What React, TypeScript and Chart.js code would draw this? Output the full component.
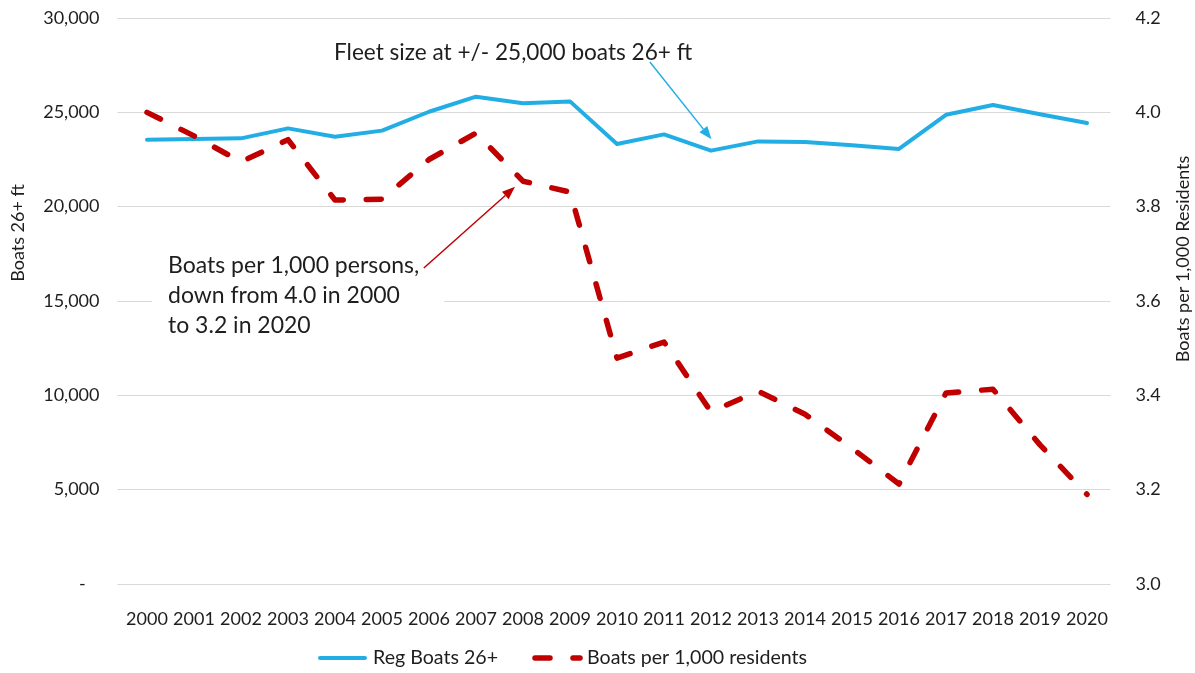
import React, { useEffect, useRef } from 'react';
import { Chart, registerables } from 'chart.js';

Chart.register(...registerables);

const years = ['2000', '2001', '2002', '2003', '2004', '2005', '2006', '2007', '2008', '2009', '2010',
  '2011', '2012', '2013', '2014', '2015', '2016', '2017', '2018', '2019', '2020'];

const regBoats = [23550, 23580, 23620, 24150, 23710, 24030, 25030, 25830, 25480, 25580, 23320,
  23830, 22970, 23460, 23430, 23250, 23060, 24870, 25390, 24900, 24430];

const boatsPer1000 = [4.0, 3.95, 3.895, 3.942, 3.814, 3.816, 3.9, 3.956, 3.854, 3.831, 3.479,
  3.513, 3.365, 3.409, 3.36, 3.288, 3.212, 3.405, 3.413, 3.295, 3.19];

const seriesLabels = ['Reg Boats 26+', 'Boats per 1,000 residents'];
const axisTitles = ['Boats 26+ ft', 'Boats per 1,000 Residents'];
const fleetNote = ['Fleet size at +/- 25,000 boats 26+ ft'];
const rateNote = ['Boats per 1,000 persons,', 'down from 4.0 in 2000', 'to 3.2 in 2020'];

const BLUE = '#22AEE4';
const RED = '#C00000';
const TEXT = '#1e1e1e';
const FONT = 'Lato, "Open Sans", sans-serif';

function drawArrow(ctx: CanvasRenderingContext2D, x1: number, y1: number, x2: number, y2: number,
  color: string, width: number, headLen: number, headW: number) {
  const ang = Math.atan2(y2 - y1, x2 - x1);
  const bx = x2 - headLen * Math.cos(ang);
  const by = y2 - headLen * Math.sin(ang);
  ctx.save();
  ctx.strokeStyle = color;
  ctx.fillStyle = color;
  ctx.lineWidth = width;
  ctx.setLineDash([]);
  ctx.beginPath();
  ctx.moveTo(x1, y1);
  ctx.lineTo(bx, by);
  ctx.stroke();
  const px = -Math.sin(ang) * headW / 2;
  const py = Math.cos(ang) * headW / 2;
  ctx.beginPath();
  ctx.moveTo(x2, y2);
  ctx.lineTo(bx + px, by + py);
  ctx.lineTo(bx - px, by - py);
  ctx.closePath();
  ctx.fill();
  ctx.restore();
}

const decorPlugin = {
  id: 'decor',
  beforeDatasetsDraw(chart: any) {
    const ctx = chart.ctx;
    ctx.save();
    ctx.fillStyle = '#ffffff';
    ctx.fillRect(152, 250, 292, 96);
    ctx.restore();
  },
  afterDraw(chart: any) {
    const ctx: CanvasRenderingContext2D = chart.ctx;
    const x = chart.scales.x;
    const yL = chart.scales.y;
    const yR = chart.scales.y1;

    // axis titles
    ctx.save();
    ctx.fillStyle = TEXT;
    ctx.font = `18px ${FONT}`;
    ctx.textAlign = 'center';
    ctx.textBaseline = 'middle';
    ctx.translate(18, 233);
    ctx.rotate(-Math.PI / 2);
    ctx.fillText(axisTitles[0], 0, 0);
    ctx.restore();

    ctx.save();
    ctx.fillStyle = TEXT;
    ctx.font = `18px ${FONT}`;
    ctx.textAlign = 'center';
    ctx.textBaseline = 'middle';
    ctx.translate(1183, 259);
    ctx.rotate(-Math.PI / 2);
    ctx.fillText(axisTitles[1], 0, 0);
    ctx.restore();

    // annotations
    ctx.save();
    ctx.fillStyle = TEXT;
    ctx.font = `22.6px ${FONT}`;
    ctx.textAlign = 'left';
    ctx.textBaseline = 'alphabetic';
    ctx.fillText(fleetNote[0], 334, 60);
    ctx.font = `23px ${FONT}`;
    rateNote.forEach((line, i) => ctx.fillText(line, 168, 273 + i * 30));
    ctx.restore();

    drawArrow(ctx, x.getPixelForValue(10.7), yL.getPixelForValue(27670),
      x.getPixelForValue(12.01), yL.getPixelForValue(23570), BLUE, 1.5, 13, 10);
    drawArrow(ctx, x.getPixelForValue(5.89), yR.getPixelForValue(3.67),
      x.getPixelForValue(7.83), yR.getPixelForValue(3.842), RED, 1.5, 13, 10);

    // legend
    const ly = 658;
    ctx.save();
    ctx.lineCap = 'round';
    ctx.strokeStyle = BLUE;
    ctx.lineWidth = 4;
    ctx.beginPath();
    ctx.moveTo(320, ly);
    ctx.lineTo(365, ly);
    ctx.stroke();
    ctx.strokeStyle = RED;
    ctx.lineWidth = 5.5;
    ctx.setLineDash([15, 23]);
    ctx.beginPath();
    ctx.moveTo(535, ly);
    ctx.lineTo(580, ly);
    ctx.stroke();
    ctx.setLineDash([]);
    ctx.fillStyle = TEXT;
    ctx.font = `19.6px ${FONT}`;
    ctx.textAlign = 'left';
    ctx.textBaseline = 'middle';
    ctx.fillText(seriesLabels[0], 373, ly);
    ctx.fillText(seriesLabels[1], 587, ly);
    ctx.restore();
  },
};

export default function App() {
  const ref = useRef<HTMLCanvasElement | null>(null);

  useEffect(() => {
    if (!ref.current) return;
    const chart = new Chart(ref.current, {
      type: 'line',
      data: {
        labels: years,
        datasets: [
          {
            label: seriesLabels[0],
            data: regBoats,
            yAxisID: 'y',
            borderColor: BLUE,
            backgroundColor: BLUE,
            borderWidth: 4,
            pointRadius: 0,
            borderCapStyle: 'round',
            borderJoinStyle: 'round',
            tension: 0,
            order: 1,
          },
          {
            label: seriesLabels[1],
            data: boatsPer1000,
            yAxisID: 'y1',
            borderColor: RED,
            backgroundColor: RED,
            borderWidth: 5.5,
            borderDash: [15, 23],
            pointRadius: 0,
            borderCapStyle: 'round',
            borderJoinStyle: 'round',
            tension: 0,
            order: 0,
          },
        ],
      },
      options: {
        responsive: false,
        animation: false,
        layout: { padding: 0 },
        plugins: {
          legend: { display: false },
          tooltip: { enabled: false },
        },
        scales: {
          x: {
            type: 'category',
            offset: true,
            grid: { display: false },
            border: { display: false },
            ticks: {
              color: TEXT,
              font: { family: FONT, size: 18 },
              padding: 16,
              maxRotation: 0,
              autoSkip: false,
            },
            afterFit: (s: any) => { s.height = 89; },
          },
          y: {
            position: 'left',
            min: 0,
            max: 30000,
            grid: { color: '#d9d9d9', lineWidth: 1, tickLength: 6, drawTicks: true },
            border: { display: false },
            ticks: {
              stepSize: 5000,
              color: TEXT,
              font: { family: FONT, size: 18 },
              padding: 18,
              callback: (v: any) => (Number(v) === 0 ? '-   ' : Number(v).toLocaleString('en-US')),
            },
            afterFit: (s: any) => { s.width = 123.5; s.paddingTop = 18; s.paddingBottom = 0; },
          },
          y1: {
            position: 'right',
            min: 3.0,
            max: 4.2,
            grid: { drawOnChartArea: false, drawTicks: false, display: false },
            border: { display: false },
            ticks: {
              stepSize: 0.2,
              color: TEXT,
              font: { family: FONT, size: 18 },
              padding: 25,
              callback: (v: any) => Number(v).toFixed(1),
            },
            afterFit: (s: any) => { s.width = 84.5; s.paddingTop = 18; s.paddingBottom = 0; },
          },
        },
      },
      plugins: [decorPlugin],
    });
    return () => chart.destroy();
  }, []);

  return (
    <div style={{ position: 'fixed', left: 0, top: 0, width: 1195, height: 673, background: '#fff' }}>
      <canvas ref={ref} width={1195} height={673} style={{ display: 'block' }} />
    </div>
  );
}
